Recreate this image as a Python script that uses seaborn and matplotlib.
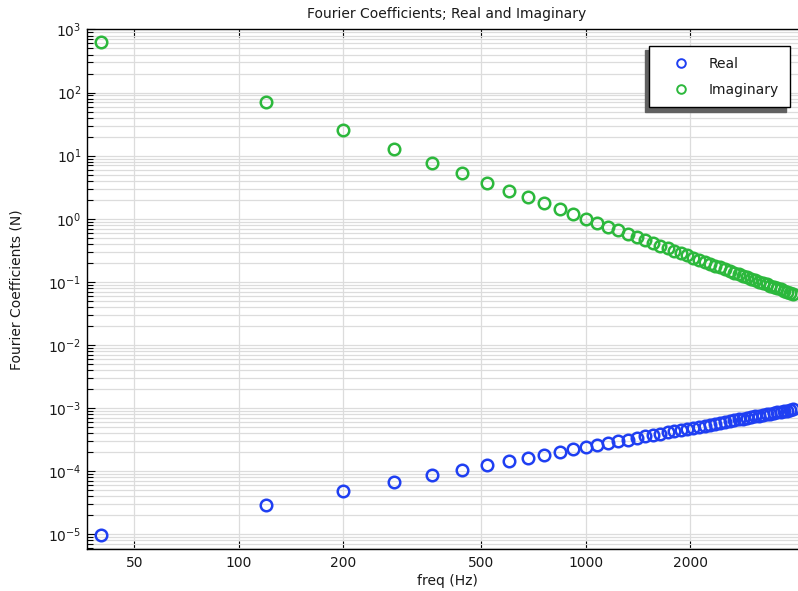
import numpy as np
import pandas as pd
import matplotlib
matplotlib.use("Agg")
import matplotlib.pyplot as plt
import matplotlib.ticker as mticker
from matplotlib.lines import Line2D
import seaborn as sns

# ---- data ----
freq_hz = [40, 120, 200, 280, 360, 440, 520, 600, 680, 760,
           840, 920, 1000, 1080, 1160, 1240, 1320, 1400, 1480, 1560,
           1640, 1720, 1800, 1880, 1960, 2040, 2120, 2200, 2280, 2360,
           2440, 2520, 2600, 2680, 2760, 2840, 2920, 3000, 3080, 3160,
           3240, 3320, 3400, 3480, 3560, 3640, 3720, 3800, 3880, 3960]

real_part = [9.6e-6, 2.88e-5, 4.80e-5, 6.72e-5, 8.64e-5, 1.056e-4, 1.248e-4, 1.44e-4, 1.632e-4, 1.824e-4,
             2.016e-4, 2.208e-4, 2.40e-4, 2.592e-4, 2.784e-4, 2.976e-4, 3.168e-4, 3.36e-4, 3.552e-4, 3.744e-4,
             3.936e-4, 4.128e-4, 4.32e-4, 4.512e-4, 4.704e-4, 4.896e-4, 5.088e-4, 5.28e-4, 5.472e-4, 5.664e-4,
             5.856e-4, 6.048e-4, 6.24e-4, 6.432e-4, 6.624e-4, 6.816e-4, 7.008e-4, 7.20e-4, 7.392e-4, 7.584e-4,
             7.776e-4, 7.968e-4, 8.16e-4, 8.352e-4, 8.544e-4, 8.736e-4, 8.928e-4, 9.12e-4, 9.312e-4, 9.504e-4]

imag_part = [630.0, 70.0, 25.2, 12.86, 7.78, 5.21, 3.73, 2.80, 2.18, 1.745,
             1.429, 1.191, 1.008, 0.864, 0.749, 0.656, 0.579, 0.514, 0.460, 0.414,
             0.375, 0.341, 0.311, 0.285, 0.262, 0.242, 0.224, 0.208, 0.194, 0.181,
             0.169, 0.159, 0.149, 0.140, 0.132, 0.125, 0.118, 0.112, 0.106, 0.101,
             0.0960, 0.0914, 0.0872, 0.0832, 0.0795, 0.0761, 0.0728, 0.0698, 0.0670, 0.0643]

series_names = ["Real", "Imaginary"]
x_tick_values = [50, 100, 200, 500, 1000, 2000]
x_tick_labels = ["50", "100", "200", "500", "1000", "2000"]

title_text = "Fourier Coefficients; Real and Imaginary"
x_label = "freq (Hz)"
y_label = "Fourier Coefficients (N)"

# ---- styling ----
sns.set_style("white")
plt.rcParams["font.family"] = ["DejaVu Sans"]
plt.rcParams["font.size"] = 10
plt.rcParams["mathtext.default"] = "regular"

color_real = "#1f3ff2"
color_imag = "#2cb83c"
text_color = "#1a1a1a"
grid_color = "#dcdcdc"

df_real = pd.DataFrame({"freq": freq_hz, "value": real_part})
df_imag = pd.DataFrame({"freq": freq_hz, "value": imag_part})

fig = plt.figure(figsize=(7.98, 5.91), dpi=100)
ax = fig.add_axes([86.5 / 798, 1 - 549 / 591, (807.5 - 86.5) / 798, (549 - 29.4) / 591])

marker_kw = dict(linestyle="", marker="o", markerfacecolor="none",
                 markersize=8.3, markeredgewidth=1.8, clip_on=True)
sns.lineplot(data=df_real, x="freq", y="value", ax=ax, color=color_real,
             markeredgecolor=color_real, sort=False, estimator=None, **marker_kw)
sns.lineplot(data=df_imag, x="freq", y="value", ax=ax, color=color_imag,
             markeredgecolor=color_imag, sort=False, estimator=None, **marker_kw)

ax.set_xscale("log")
ax.set_yscale("log")
ax.set_xlim(36.41, 4352)
ax.set_ylim(5.85e-6, 1e3)

# x ticks (major only)
ax.xaxis.set_major_locator(mticker.FixedLocator(x_tick_values))
ax.xaxis.set_major_formatter(mticker.FixedFormatter(x_tick_labels))
ax.xaxis.set_minor_locator(mticker.NullLocator())

# y ticks
ax.yaxis.set_major_locator(mticker.FixedLocator([1e-5, 1e-4, 1e-3, 1e-2, 1e-1, 1e0, 1e1, 1e2, 1e3]))
ax.yaxis.set_minor_locator(mticker.LogLocator(base=10, subs=np.arange(2, 10), numticks=20))
ax.yaxis.set_major_formatter(mticker.LogFormatterSciNotation())
ax.yaxis.set_minor_formatter(mticker.NullFormatter())

ax.tick_params(axis="both", which="both", direction="in", colors="black",
               labelcolor=text_color, labelsize=10)
ax.tick_params(axis="x", which="major", length=5.5, width=0.8, top=True, bottom=True, pad=5)
ax.tick_params(axis="y", which="major", length=5.5, width=0.8, left=True, right=False, pad=3.5)
ax.tick_params(axis="y", which="minor", length=4.5, width=0.8, left=True, right=False)

# grid
ax.grid(True, which="major", axis="both", color=grid_color, linewidth=0.9)
ax.grid(True, which="minor", axis="y", color=grid_color, linewidth=0.9)
ax.set_axisbelow(True)

for side in ["left", "bottom", "top"]:
    ax.spines[side].set_visible(True)
    ax.spines[side].set_color("black")
    ax.spines[side].set_linewidth(1.0)
ax.spines["right"].set_visible(False)

ax.set_title(title_text, fontsize=10, color=text_color, pad=8)
ax.set_xlabel(x_label, fontsize=10, color=text_color, labelpad=3)
ax.set_ylabel(y_label, fontsize=10, color=text_color)
ax.yaxis.set_label_coords((24 - 86.5) / 721.0, 0.5)

handles = [Line2D([], [], linestyle="", marker="o", markerfacecolor="none",
                  markeredgecolor=c, markersize=6.2, markeredgewidth=1.4)
           for c in (color_real, color_imag)]
leg_kw = dict(loc="upper right",
              bbox_to_anchor=(790 / 798, 1 - 46 / 591), bbox_transform=fig.transFigure,
              borderaxespad=0, frameon=True, fancybox=False, framealpha=1,
              edgecolor="black", fontsize=10, borderpad=0.78, labelspacing=0.85,
              handlelength=3.0, handletextpad=0.5)
try:
    leg = ax.legend(handles, series_names,
                    shadow={"ox": -3, "oy": -3, "shade": 0.62, "alpha": 1.0}, **leg_kw)
except Exception:
    leg = ax.legend(handles, series_names, shadow=True, **leg_kw)
leg.get_frame().set_linewidth(1.0)
for t in leg.get_texts():
    t.set_color(text_color)

fig.savefig("out.png", dpi=100)
